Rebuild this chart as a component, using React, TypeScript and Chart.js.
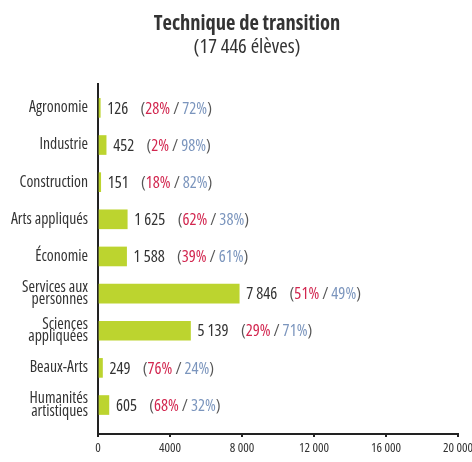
import React, { useEffect, useRef } from "react";
import { Chart, registerables } from "chart.js";

Chart.register(...registerables);

const categories: (string | string[])[] = [
  "Agronomie",
  "Industrie",
  "Construction",
  "Arts appliqués",
  "Économie",
  ["Services aux", "personnes"],
  ["Sciences", "appliquées"],
  "Beaux-Arts",
  ["Humanités", "artistiques"],
];
const values = [126, 452, 151, 1625, 1588, 7846, 5139, 249, 605];
const valueLabels = ["126", "452", "151", "1 625", "1 588", "7 846", "5 139", "249", "605"];
const girlsPct = [28, 2, 18, 62, 39, 51, 29, 76, 68];
const boysPct = [72, 98, 82, 38, 61, 49, 71, 24, 32];
const xTickValues = [0, 4000, 8000, 12000, 16000, 20000];
const xTickLabels = ["0", "4000", "8 000", "12 000", "16 000", "20 000"];

const FAMILY = "'Open Sans', sans-serif";

const labelPlugin = {
  id: "barLabels",
  afterDatasetsDraw(chart: any) {
    const ctx = chart.ctx;
    const meta = chart.getDatasetMeta(0);
    ctx.save();
    ctx.font = `condensed 16.5px ${FAMILY}`;
    ctx.textBaseline = "middle";
    ctx.textAlign = "left";
    meta.data.forEach((bar: any, i: number) => {
      let x = bar.x + 7;
      const y = bar.y + 1;
      const parts: [string, string][] = [
        [valueLabels[i], "#333333"],
        ["    ", "#333333"],
        ["(", "#555555"],
        [`${girlsPct[i]}%`, "#d2264f"],
        [" / ", "#555555"],
        [`${boysPct[i]}%`, "#7b95bd"],
        [")", "#555555"],
      ];
      parts.forEach(([t, c]) => {
        ctx.fillStyle = c;
        ctx.fillText(t, x, y);
        x += ctx.measureText(t).width;
      });
    });
    ctx.restore();
  },
};

export default function App() {
  const ref = useRef<HTMLCanvasElement | null>(null);
  useEffect(() => {
    if (!ref.current) return;
    const chart = new Chart(ref.current, {
      type: "bar",
      data: {
        datasets: [
          {
            data: values.map((v, i) => ({ x: v, y: i })),
            backgroundColor: "#bcd42f",
            borderWidth: 0,
            barThickness: 19,
          },
        ],
      },
      options: {
        indexAxis: "y",
        animation: false,
        responsive: false,
        layout: { padding: { left: 22, right: 0, top: 0, bottom: 2 } },
        plugins: {
          legend: { display: false },
          tooltip: { enabled: false },
          title: {
            display: true,
            text: "Technique de transition",
            color: "#333333",
            font: { family: FAMILY, size: 20.5, weight: "bold condensed", lineHeight: 1.0 },
            padding: { top: 14, bottom: 0 },
          },
          subtitle: {
            display: true,
            text: "(17 446 élèves)",
            color: "#333333",
            font: { family: FAMILY, size: 20.5, weight: "condensed", lineHeight: 1.2 },
            padding: { top: 0, bottom: 25 },
          },
        },
        scales: {
          x: {
            type: "linear",
            min: 0,
            max: 20000,
            afterBuildTicks: (scale: any) => {
              scale.ticks = xTickValues.map((v) => ({ value: v }));
            },
            afterFit: (scale: any) => {
              scale.paddingRight = 14;
              scale.paddingLeft = 0;
              scale.paddingTop = 0;
              scale.paddingBottom = 0;
            },
            ticks: {
              color: "#333333",
              font: { family: FAMILY, size: 13, weight: "condensed", lineHeight: 1.0 },
              padding: 5,
              maxRotation: 0,
              autoSkip: false,
              callback: (v: any) => {
                const idx = xTickValues.indexOf(Number(v));
                return idx >= 0 ? xTickLabels[idx] : "";
              },
            },
            grid: { display: true, drawOnChartArea: false, drawTicks: true, tickLength: 3, color: "#222", lineWidth: 2 },
            border: { display: true, color: "#222", width: 2 },
          },
          y: {
            type: "linear",
            reverse: true,
            offset: false,
            min: -0.64,
            max: 8.78,
            afterBuildTicks: (scale: any) => {
              scale.ticks = categories.map((_, i) => ({ value: i }));
            },
            afterFit: (scale: any) => {
              scale.width = 76;
              scale.paddingTop = 0;
              scale.paddingBottom = 0;
              scale.paddingLeft = 0;
              scale.paddingRight = 0;
              scale._computeLabelArea = () => undefined;
            },
            ticks: {
              color: "#333333",
              font: { family: FAMILY, size: 15.7, weight: "condensed", lineHeight: 0.8 },
              padding: 10,
              autoSkip: false,
              callback: (v: any) => {
                const i = Math.round(Number(v));
                return categories[i] ?? "";
              },
            },
            grid: { display: false, drawTicks: false },
            border: { display: true, color: "#222", width: 2 },
          },
        },
      },
      plugins: [labelPlugin],
    });
    return () => chart.destroy();
  }, []);
  return (
    <div style={{ position: "fixed", left: 0, top: 0, width: 472, height: 462, background: "#fff" }}>
      <canvas ref={ref} width={472} height={462} style={{ display: "block" }} />
    </div>
  );
}
